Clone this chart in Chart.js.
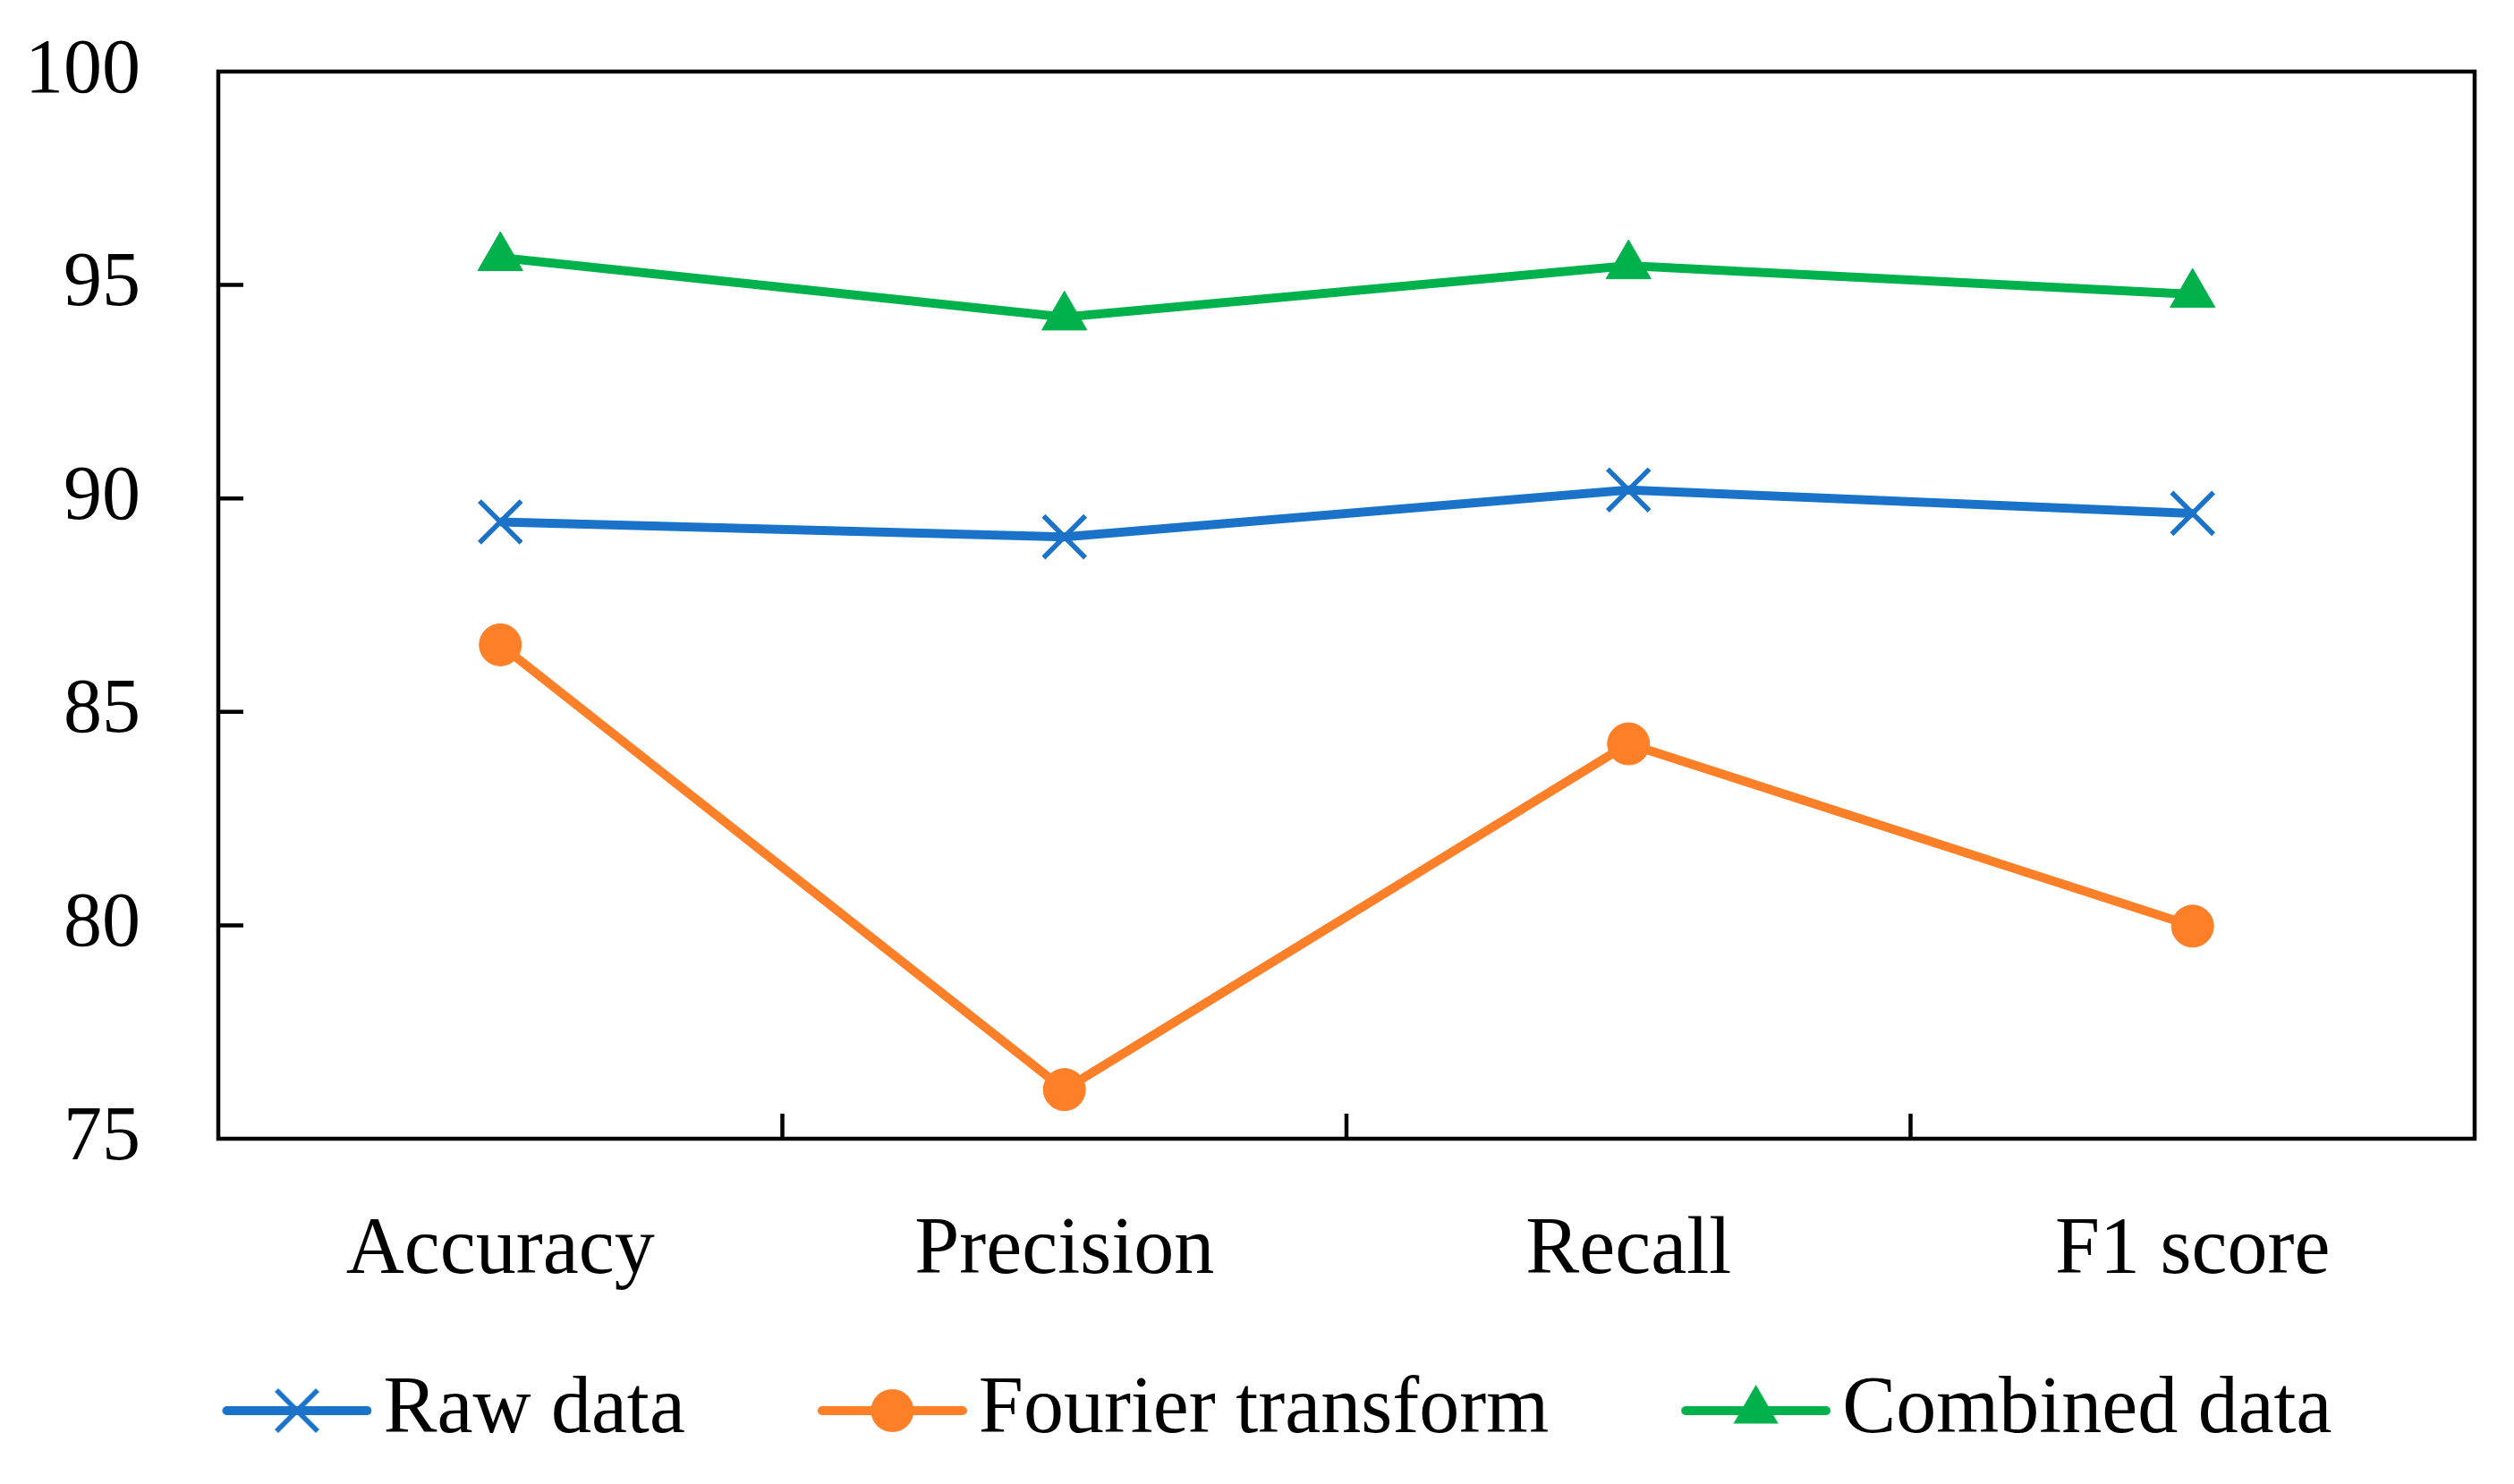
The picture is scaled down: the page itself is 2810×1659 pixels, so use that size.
<!DOCTYPE html>
<html>
<head>
<meta charset="utf-8">
<script src="https://cdn.jsdelivr.net/npm/chart.js@4.4.1/dist/chart.umd.min.js"></script>
<style>
  html, body { margin: 0; padding: 0; background: #fff; }
  #wrap { width: 2810px; height: 1659px; }
</style>
</head>
<body>
<div id="wrap"><canvas id="chart" width="2810" height="1659"></canvas></div>
<script>
"use strict";

const categories = ['Accuracy', 'Precision', 'Recall', 'F1 score'];
const rawData = [89.45, 89.1, 90.2, 89.65];
const fourierData = [86.57, 76.15, 84.25, 79.98];
const combinedData = [95.64, 94.25, 95.45, 94.78];
const yTicks = [75, 80, 85, 90, 95, 100];

const FONT = "'Liberation Serif', 'Times New Roman', serif";
const BLUE = '#1A73C9';
const ORANGE = '#FD7F28';
const GREEN = '#00B14C';

// legend icon: a short line with the series marker in the middle
function legendIcon(style, color) {
  const c = document.createElement('canvas');
  c.width = 260;
  c.height = 70;
  const ctx = c.getContext('2d');
  const x0 = 93, x1 = 260, cy = 35, cx = (x0 + x1) / 2;
  ctx.strokeStyle = color;
  ctx.fillStyle = color;
  ctx.lineCap = 'round';
  ctx.lineWidth = 10;
  ctx.beginPath();
  ctx.moveTo(x0 + 5, cy);
  ctx.lineTo(x1 - 5, cy);
  ctx.stroke();
  if (style === 'crossRot') {
    const d = 23;
    ctx.lineWidth = 5.5;
    ctx.lineCap = 'butt';
    ctx.beginPath();
    ctx.moveTo(cx - d, cy - d); ctx.lineTo(cx + d, cy + d);
    ctx.moveTo(cx - d, cy + d); ctx.lineTo(cx + d, cy - d);
    ctx.stroke();
  } else if (style === 'circle') {
    ctx.beginPath();
    ctx.arc(cx, cy, 24, 0, Math.PI * 2);
    ctx.fill();
  } else {
    const r = 29;
    ctx.beginPath();
    ctx.moveTo(cx, cy - r);
    ctx.lineTo(cx + r * Math.sin(2 * Math.PI / 3), cy + r / 2);
    ctx.lineTo(cx - r * Math.sin(2 * Math.PI / 3), cy + r / 2);
    ctx.closePath();
    ctx.fill();
  }
  return c;
}

// box around the plot plus inward tick marks
const frame = {
  id: 'frame',
  beforeDatasetsDraw(chart) {
    const {ctx, chartArea: a, scales: {x, y}} = chart;
    const len = 28;
    ctx.save();
    ctx.strokeStyle = '#000';
    ctx.lineWidth = 4.5;
    ctx.strokeRect(a.left, a.top, a.right - a.left, a.bottom - a.top);
    ctx.beginPath();
    yTicks.slice(1, -1).forEach(v => {
      const py = y.getPixelForValue(v);
      ctx.moveTo(a.left, py);
      ctx.lineTo(a.left + len, py);
    });
    for (let i = 0; i < categories.length - 1; i++) {
      const px = (x.getPixelForValue(i) + x.getPixelForValue(i + 1)) / 2;
      ctx.moveTo(px, a.bottom);
      ctx.lineTo(px, a.bottom - len);
    }
    ctx.stroke();
    ctx.restore();
  }
};

const styles = ['crossRot', 'circle', 'triangle'];
const colors = [BLUE, ORANGE, GREEN];

new Chart(document.getElementById('chart'), {
  type: 'line',
  data: {
    labels: categories,
    datasets: [
      {
        label: 'Raw data', data: rawData,
        borderColor: BLUE, backgroundColor: BLUE, borderWidth: 10,
        pointStyle: 'crossRot', pointRadius: 33, pointBorderWidth: 5.5,
        pointBorderColor: BLUE, pointBackgroundColor: BLUE
      },
      {
        label: 'Fourier transform', data: fourierData,
        borderColor: ORANGE, backgroundColor: ORANGE, borderWidth: 10,
        pointStyle: 'circle', pointRadius: 23.5, pointBorderWidth: 1,
        pointBorderColor: ORANGE, pointBackgroundColor: ORANGE
      },
      {
        label: 'Combined data', data: combinedData,
        borderColor: GREEN, backgroundColor: GREEN, borderWidth: 10,
        pointStyle: 'triangle', pointRadius: 29, pointBorderWidth: 1,
        pointBorderColor: GREEN, pointBackgroundColor: GREEN
      }
    ]
  },
  options: {
    responsive: false,
    devicePixelRatio: 1,
    animation: false,
    layout: { padding: { top: 80, right: 44, left: 28, bottom: 27 } },
    scales: {
      x: {
        offset: true,
        grid: { display: false, drawTicks: false },
        border: { display: false },
        ticks: { font: { family: FONT, size: 90 }, color: '#000', padding: 72 },
        afterFit(axis) {
          axis.paddingLeft = 0;
          axis.paddingRight = 0;
          axis.height = 172;
        }
      },
      y: {
        min: 75, max: 100,
        afterBuildTicks(axis) { axis.ticks = yTicks.map(v => ({ value: v })); },
        grid: { display: false, drawTicks: false },
        border: { display: false },
        ticks: { font: { family: FONT, size: 86 }, color: '#000', padding: 87 },
        afterFit(axis) {
          axis.paddingTop = 0;
          axis.paddingBottom = 0;
          axis.width = 216;
        }
      }
    },
    plugins: {
      tooltip: { enabled: false },
      legend: {
        position: 'bottom',
        labels: {
          usePointStyle: true,
          pointStyleWidth: 196,
          padding: 87,
          color: '#000',
          font: { family: FONT, size: 90 },
          generateLabels(chart) {
            const items = Chart.defaults.plugins.legend.labels.generateLabels(chart);
            return items.map((it, i) => Object.assign(it, { pointStyle: legendIcon(styles[i], colors[i]) }));
          }
        }
      }
    }
  },
  plugins: [frame]
});
</script>
</body>
</html>
